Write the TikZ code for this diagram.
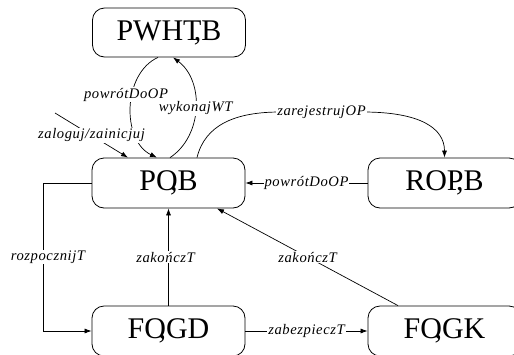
\documentclass[tikz,border=0pt]{standalone}
\usepackage{fontspec}
\setmainfont{Liberation Serif}
\newfontfamily\lblfont[LetterSpace=4]{Liberation Serif}
\usetikzlibrary{arrows.meta,calc}
\newcommand{\cm}{\llap{,}}
\begin{document}
\begin{tikzpicture}[x=1pt,y=-1pt,
  state/.style={draw, rounded corners=12pt, minimum width=153pt, minimum height=50pt, inner sep=0pt, font=\fontsize{30}{36}\selectfont, line width=0.8pt},
  lbl/.style={fill=white, inner sep=1pt, font=\lblfont\itshape\fontsize{14.6}{16}\selectfont},
  conn/.style={line width=0.7pt, -{Latex[length=7pt,width=5pt]}}]
\useasboundingbox (0,0) rectangle (514,354);
\clip (0,0) rectangle (514,354);
\node[state, minimum height=49pt] (pwhtb) at (169,32.5) {PWHT\cm B};
\node[state] (pob) at (168.5,183) {PO\cm B};
\node[state] (ropb) at (444.5,183) {ROP\cm B};
\node[state] (fogd) at (168.5,331) {FO\cm GD};
\node[state] (fogk) at (444.5,331) {FO\cm GK};
\coordinate (init) at (55,113);
\coordinate (zl) at (280,112);
\coordinate (zr) at (363,112);
\coordinate (rl) at (43,183);
\coordinate (rb) at (43,331);
\draw[conn] ([xshift=-11pt]pwhtb.south) to[bend right=65] node[lbl,pos=0.4,xshift=-6pt]{powrótDoOP} ([xshift=-11.5pt]pob.north);
\draw[conn] ([xshift=1.5pt]pob.north) to[bend right=55] node[lbl,pos=0.5]{wykonajWT} ([xshift=4pt]pwhtb.south);
\draw[conn] (init) -- node[lbl]{zaloguj/zainicjuj} ([xshift=-40.5pt]pob.north);
\draw[conn] ([xshift=28.5pt]pob.north) .. controls (205,125) and (235,112) .. (zl) -- node[lbl]{zarejestrujOP} (zr) .. controls (420,112) and (444.5,128) .. (ropb.north);
\draw[conn] (ropb.west) -- node[lbl]{powrótDoOP} (pob.east);
\draw[conn] (pob.west) -- (rl) -- node[lbl,xshift=5pt]{rozpocznijT} (rb) -- (fogd.west);
\draw[conn] (fogd.north) -- node[lbl,xshift=-3pt]{zakończT} (pob.south);
\draw[conn] ([xshift=-46.5pt]fogk.north) -- node[lbl]{zakończT} ([xshift=48.5pt]pob.south);
\draw[conn] (fogd.east) -- node[lbl]{zabezpieczT} (fogk.west);
\end{tikzpicture}
\end{document}
